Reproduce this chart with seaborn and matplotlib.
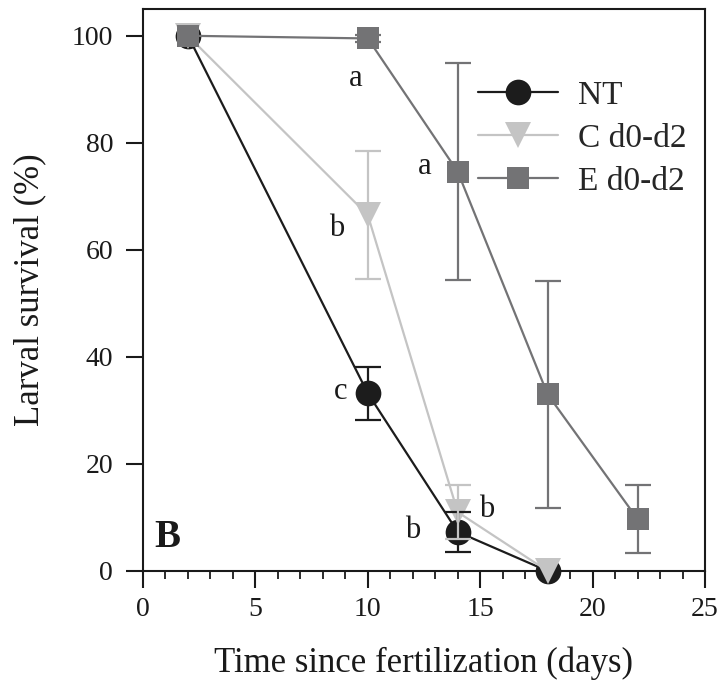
import matplotlib
matplotlib.use("Agg")
import matplotlib.pyplot as plt
from matplotlib.ticker import MultipleLocator
import numpy as np
import pandas as pd
import seaborn as sns

# Survival data (mean % and error) for each treatment
nt_days = [2, 10, 14, 18]
nt_surv = [100, 33.2, 7.3, 0]
nt_err = [0, 5.0, 3.7, 0]

c_days = [2, 10, 14, 18]
c_surv = [100, 66.5, 11.0, 0]
c_err = [0, 12.0, 5.0, 0]

e_days = [2, 10, 14, 18, 22]
e_surv = [100, 99.5, 74.6, 33.0, 9.7]
e_err = [0, 0.6, 20.3, 21.2, 6.3]

groups = ["NT", "C d0-d2", "E d0-d2"]
colors = {"NT": "#1c1c1c", "C d0-d2": "#c4c4c4", "E d0-d2": "#737375"}
markers = {"NT": "o", "C d0-d2": "v", "E d0-d2": "s"}
msizes = {"NT": 18.5, "C d0-d2": 19, "E d0-d2": 16.5}

# Significance letters: (x, y, text)
letters = [(9.45, 92, "a"), (12.55, 75.5, "a"), (8.6, 64, "b"),
           (8.8, 33.5, "c"), (12.0, 7.5, "b"), (15.3, 11.4, "b")]

df = pd.concat([
    pd.DataFrame({"day": nt_days, "surv": nt_surv, "err": nt_err, "group": "NT"}),
    pd.DataFrame({"day": c_days, "surv": c_surv, "err": c_err, "group": "C d0-d2"}),
    pd.DataFrame({"day": e_days, "surv": e_surv, "err": e_err, "group": "E d0-d2"}),
], ignore_index=True)

sns.set_theme(style="ticks")
plt.rcParams["font.family"] = ["Liberation Serif", "DejaVu Serif"]

fig = plt.figure(figsize=(7.18, 6.98), dpi=100)
ax = fig.add_axes([143 / 718, 1 - 571 / 698, (705 - 143) / 718, (571 - 9) / 698])

# Lines and markers: NT underneath, then C, then E on top
for i, g in enumerate(groups):
    sub = df[df["group"] == g]
    sns.lineplot(data=sub, x="day", y="surv", ax=ax, color=colors[g],
                 marker=markers[g], markersize=msizes[g], markeredgewidth=0,
                 linewidth=1.6, label=g, zorder=3 + i, legend=False,
                 clip_on=False)

# Error bars above the markers
for g in groups:
    sub = df[df["group"] == g]
    sub = sub[sub["err"] > 0]
    ax.errorbar(sub["day"], sub["surv"], yerr=sub["err"], fmt="none",
                ecolor=colors[g], elinewidth=1.6, capsize=9.5, capthick=1.6,
                zorder=7)

for x, y, t in letters:
    ax.text(x, y, t, fontsize=22, ha="center", va="center", color="#1a1a1a")

ax.text(1.07, 6.2, "B", fontsize=28, fontweight="bold", ha="center",
        va="center", color="#1a1a1a")

ax.set_xlim(0, 25)
ax.set_ylim(0, 105)
ax.set_xticks([0, 5, 10, 15, 20, 25])
ax.set_yticks([0, 20, 40, 60, 80, 100])
ax.xaxis.set_minor_locator(MultipleLocator(1))
ax.tick_params(axis="both", which="major", direction="out", length=12.5,
               width=1.5, labelsize=20, color="#1a1a1a", labelcolor="#1a1a1a")
ax.tick_params(axis="x", which="major", pad=6)
ax.tick_params(axis="y", which="major", pad=9)
ax.tick_params(axis="x", which="minor", direction="out", length=6, width=1.3,
               color="#1a1a1a")
for s in ax.spines.values():
    s.set_linewidth(1.5)
    s.set_color("#1a1a1a")
    s.set_visible(True)
    s.set_zorder(2)

ax.set_xlabel("Time since fertilization (days)", fontsize=25, labelpad=18,
              color="#1a1a1a")
ax.set_ylabel("Larval survival (%)", fontsize=25, labelpad=18,
              color="#1a1a1a")

handles, labels = ax.get_legend_handles_labels()
order = [labels.index(g) for g in groups]
ax.legend([handles[i] for i in order], [labels[i] for i in order],
          loc="upper left", bbox_to_anchor=(0.596, 0.873), frameon=False,
          fontsize=24, handlelength=2.4, handletextpad=0.6, labelspacing=0.37,
          borderaxespad=0, borderpad=0)

fig.savefig("out.png", dpi=100)
